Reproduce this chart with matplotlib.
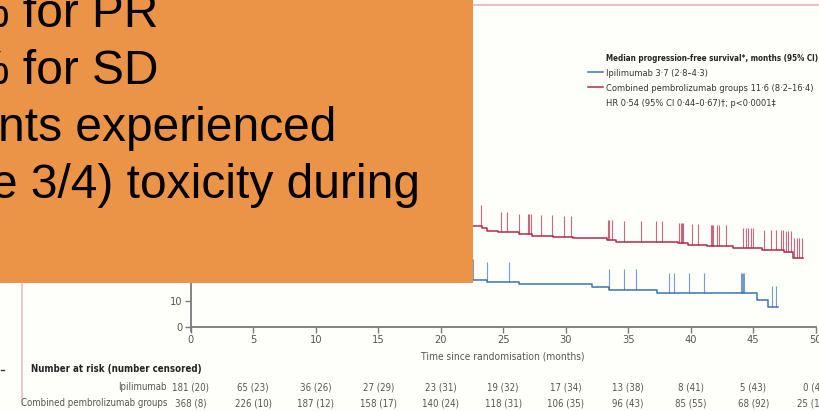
import numpy as np
import matplotlib
matplotlib.use("Agg")
import matplotlib.pyplot as plt
import matplotlib.transforms as mtransforms
from matplotlib.patches import Rectangle
from matplotlib.lines import Line2D
from matplotlib import font_manager

# visible part of the Kaplan-Meier curves (time in months, PFS in %)
red_t = [22.0, 23.3, 23.7, 24.6, 26.3, 27.3, 29.0, 30.6, 33.3, 34.0, 39.0, 39.8, 41.3, 43.4, 45.7, 47.5, 48.2, 49.0]
red_s = [39.2, 38.3, 37.2, 36.7, 36.0, 35.4, 35.0, 34.6, 33.7, 33.1, 32.4, 31.8, 31.4, 30.5, 29.8, 29.2, 26.6, 26.6]
red_censor = [23.2, 24.8, 25.3, 26.3, 27.0, 27.1, 27.2, 28.0, 28.9, 29.9, 30.4, 33.4, 33.5, 33.7, 34.7, 36.0,
              37.2, 37.7, 39.1, 39.2, 39.3, 39.4, 40.1, 40.6, 41.6, 41.7, 41.8, 42.1, 42.3, 42.8, 44.2, 44.4,
              44.6, 44.8, 45.0, 45.9, 46.4, 46.8, 47.2, 47.4, 47.6, 47.8, 48.0, 48.3, 48.5, 48.7, 48.9]

blue_t = [22.0, 23.7, 26.3, 32.1, 33.5, 37.3, 45.3, 46.2, 47.0]
blue_s = [18.2, 17.3, 16.5, 15.3, 14.3, 13.0, 10.4, 7.8, 7.8]
blue_censor = [22.6, 23.7, 25.5, 33.5, 34.7, 35.6, 38.3, 38.7, 39.9, 41.1, 44.0, 44.1, 44.2, 44.3, 46.5, 46.8]

risk_times = [0, 5, 10, 15, 20, 25, 30, 35, 40, 45, 50]
risk_ipi = ["181 (20)", "65 (23)", "36 (26)", "27 (29)", "23 (31)", "19 (32)", "17 (34)", "13 (38)",
            "8 (41)", "5 (43)", "0 (45)"]
risk_pembro = ["368 (8)", "226 (10)", "187 (12)", "158 (17)", "140 (24)", "118 (31)", "106 (35)",
               "96 (43)", "85 (55)", "68 (92)", "25 (133)"]

legend_title = "Median progression-free survival*, months (95% CI)"
legend_lines = ["Ipilimumab 3·7 (2·8–4·3)", "Combined pembrolizumab groups 11·6 (8·2–16·4)",
                "HR 0·54 (95% CI 0·44–0·67)†; p<0·0001‡"]
slide_lines = ["% for PR", "% for SD", "nts experienced", "e 3/4) toxicity during"]

RED = "#b32a4c"
BLUE = "#3a76ae"
GREY = "#555555"
ORANGE = "#eb9447"
BG = "#fefefb"


def narrow_font(bold):
    # look for a condensed / narrow sans face, otherwise fall back to Lato
    for f in font_manager.fontManager.ttflist:
        n = f.fname.lower()
        if not ("narrow" in n or "condensed" in n):
            continue
        if "mono" in n or "italic" in n or "oblique" in n or "serif" in n.replace("sans", ""):
            continue
        if ("bold" in n) == bold:
            return font_manager.FontProperties(fname=f.fname)
    return font_manager.FontProperties(family="Lato", weight="bold" if bold else "normal")


fp_reg = narrow_font(False)
fp_bold = narrow_font(True)

W, H = 819, 411
fig = plt.figure(figsize=(W / 100, H / 100), dpi=100, facecolor=BG)
renderer = fig.canvas.get_renderer()


def fit_size(s, fp, target):
    t = fig.text(0, 0, s, fontproperties=fp, fontsize=10)
    w = t.get_window_extent(renderer).width
    t.remove()
    return 10 * target / w


fs = fit_size(legend_lines[1], fp_reg, 206)
fs_bold = fit_size(legend_title, fp_bold, 209)


def px(x, y):
    # pixel (from top-left) -> figure fraction
    return x / W, 1 - y / H


ax = fig.add_axes([190.7 / W, 84.3 / H, 625 / W, 257 / H])
ax.set_facecolor("none")
ax.set_xlim(0, 50)
ax.set_ylim(0, 100)
for s in ("top", "right"):
    ax.spines[s].set_visible(False)
for s in ("left", "bottom"):
    ax.spines[s].set_color("#7a7a7a")
    ax.spines[s].set_linewidth(1.3)
ax.spines["left"].set_bounds(-1.5, 100)
ax.set_xticks(range(0, 51, 5))
ax.set_yticks([0, 10])
ax.tick_params(colors="#7a7a7a", labelcolor=GREY, length=4, width=1, pad=2)
for lab in ax.get_xticklabels() + ax.get_yticklabels():
    lab.set_fontproperties(fp_reg)
    lab.set_fontsize(fs * 1.2)
ax.set_xlabel("Time since randomisation (months)", fontproperties=fp_reg, fontsize=fs * 1.1,
              color=GREY, labelpad=5)


def km(t, s, cens, color):
    ax.step(t, s, where="post", color=color, lw=1.1, zorder=3)
    idx = np.searchsorted(t, cens, side="right") - 1
    lvl = np.array(s)[idx]
    ax.vlines(cens, lvl, lvl + 8, color=color, lw=0.8, alpha=0.7, zorder=3)


km(red_t, red_s, red_censor, RED)
km(blue_t, blue_s, blue_censor, BLUE)

# legend block
fig.text(*px(606, 61), legend_title, fontproperties=fp_bold, fontsize=fs_bold, color="#222222", va="baseline")
for i, s in enumerate(legend_lines):
    fig.text(*px(606, 76 + 15 * i), s, fontproperties=fp_reg, fontsize=fs, color="#333333", va="baseline")
for yy, c in ((72, BLUE), (87, RED)):
    x0, y0 = px(588, yy)
    x1, _ = px(603, yy)
    fig.add_artist(Line2D([x0, x1], [y0, y0], color=c, lw=1.1))

# number at risk table
tr = mtransforms.blended_transform_factory(ax.transData, fig.transFigure)
fig.text(*px(31, 372), "Number at risk (number censored)", fontproperties=fp_bold, fontsize=fs * 1.05,
         color="#222222", va="baseline")
fig.text(*px(167, 390), "Ipilimumab", fontproperties=fp_reg, fontsize=fs * 1.05, color=GREY, ha="right",
         va="baseline")
fig.text(*px(167, 406), "Combined pembrolizumab groups", fontproperties=fp_reg, fontsize=fs * 1.05, color=GREY,
         ha="right", va="baseline")
for t, a, b in zip(risk_times, risk_ipi, risk_pembro):
    ax.text(t, 1 - 390 / H, a, transform=tr, fontproperties=fp_reg, fontsize=fs * 1.05, color=GREY,
            ha="center", va="baseline", clip_on=False)
    ax.text(t, 1 - 406 / H, b, transform=tr, fontproperties=fp_reg, fontsize=fs * 1.05, color=GREY,
            ha="center", va="baseline", clip_on=False)

# page frame lines
fig.add_artist(Line2D([473 / W, 1], [1 - 5 / H] * 2, color="#ebbcc9", lw=1.5))
fig.add_artist(Line2D([22 / W] * 2, [1 - 283 / H, 1 - 404 / H], color="#ebbcc9", lw=1.2))
fig.add_artist(Line2D([1 / W, 4 / W], [1 - 370 / H] * 2, color="#333333", lw=1))

# slide text box on top
fig.add_artist(Rectangle((0, 1 - 283 / H), 473 / W, 283 / H, facecolor=ORANGE, edgecolor="none",
                         transform=fig.transFigure, zorder=10))
for i, (line, x0) in enumerate(zip(slide_lines, [-33, -33, -2, -9])):
    fig.text(x0 / W, 1 - (27 + 57 * i) / H, line, fontsize=34.5, family="Liberation Sans",
             color="black", va="baseline", zorder=11)

fig.savefig("out.png", dpi=100, facecolor=BG)
